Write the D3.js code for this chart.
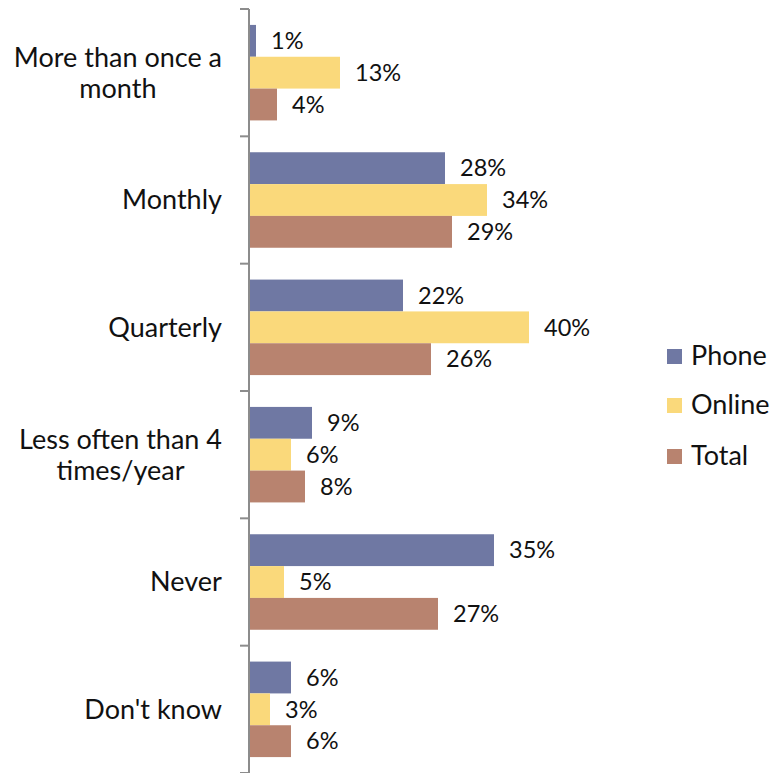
<!DOCTYPE html>
<html>
<head>
<meta charset="utf-8">
<script src="https://cdn.jsdelivr.net/npm/d3@7"></script>
<style>
  body { margin: 0; background: #fff; }
  text { font-family: "Lato", "Open Sans", sans-serif; fill: #111; }
</style>
</head>
<body>
<svg id="chart"></svg>
<script>
// Dades
var categories = [
  ["More than once a", "month"],
  ["Monthly"],
  ["Quarterly"],
  ["Less often than 4", "times/year"],
  ["Never"],
  ["Don't know"]
];
var series = ["Phone", "Online", "Total"];
var phone = [1, 28, 22, 9, 35, 6];
var online = [13, 34, 40, 6, 5, 3];
var total = [4, 29, 26, 8, 27, 6];
var colors = ["#6f78a3", "#fad97b", "#b8836f"];

var width = 783, height = 773;
var x0 = 249;

var svg = d3.select("#chart").attr("width", width).attr("height", height);

var y = d3.scaleBand().domain(d3.range(categories.length)).range([9, 773]).paddingInner(0.25).paddingOuter(0.125);
var yInner = d3.scaleBand().domain(series).range([0, y.bandwidth()]);
var x = d3.scaleLinear().domain([0, 40]).range([x0, x0 + 280]);

var values = [phone, online, total];

// Barres
series.forEach(function(s, si) {
  var g = svg.append("g");
  g.selectAll("rect")
    .data(values[si])
    .enter().append("rect")
    .attr("x", x(0))
    .attr("y", (d, i) => y(i) + yInner(s))
    .attr("width", d => x(d) - x(0))
    .attr("height", yInner.bandwidth())
    .attr("fill", colors[si]);
  g.selectAll("text")
    .data(values[si])
    .enter().append("text")
    .attr("x", d => x(d) + 15)
    .attr("y", (d, i) => y(i) + yInner(s) + yInner.bandwidth() / 2)
    .attr("dy", "0.35em")
    .style("font-size", "23.5px")
    .text(d => d + "%");
});

// Eix vertical
var step = y.step();
var axis = svg.append("g");
axis.append("line")
  .attr("x1", x0).attr("x2", x0)
  .attr("y1", 9).attr("y2", 773)
  .attr("stroke", "#8c8c8c").attr("stroke-width", 2);
d3.range(categories.length + 1).forEach(function(i) {
  var ty = 9 + i * step;
  axis.append("line")
    .attr("x1", x0 - 9).attr("x2", x0)
    .attr("y1", ty).attr("y2", ty)
    .attr("stroke", "#8c8c8c").attr("stroke-width", 2);
});

// Etiquetes de categories
categories.forEach(function(lines, i) {
  var cy = y(i) + y.bandwidth() / 2;
  var t = svg.append("text")
    .attr("text-anchor", "middle")
    .style("font-size", "27px");
  var lh = 31;
  lines.forEach(function(l, j) {
    t.append("tspan")
      .attr("x", 0)
      .attr("y", cy + (j - (lines.length - 1) / 2) * lh)
      .attr("dy", "0.35em")
      .text(l);
  });
  var w = t.node().getBBox().width;
  t.selectAll("tspan").attr("x", 222 - w / 2);
});

// Llegenda
var legY = [356, 405, 456];
series.forEach(function(s, i) {
  svg.append("rect")
    .attr("x", 667).attr("y", legY[i] - 7)
    .attr("width", 15).attr("height", 15)
    .attr("fill", colors[i]);
  svg.append("text")
    .attr("x", 691).attr("y", legY[i])
    .attr("dy", "0.35em")
    .style("font-size", "27px")
    .text(s);
});
</script>
</body>
</html>
